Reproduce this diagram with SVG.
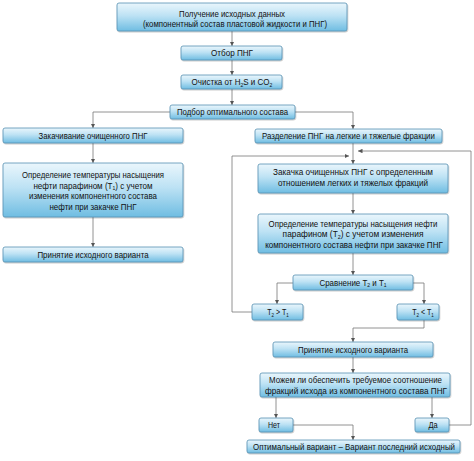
<svg xmlns="http://www.w3.org/2000/svg" width="474" height="461" viewBox="0 0 474 461">
<defs>
<linearGradient id="g" x1="0" y1="0" x2="0" y2="1">
<stop offset="0" stop-color="#eaf6fc"/>
<stop offset="0.45" stop-color="#bde2f4"/>
<stop offset="1" stop-color="#6fbde2"/>
</linearGradient>
<filter id="sh" x="-5%" y="-20%" width="110%" height="150%">
<feDropShadow dx="0.6" dy="1" stdDeviation="0.6" flood-color="#000" flood-opacity="0.25"/>
</filter>
<marker id="a" viewBox="0 0 6 6" refX="6" refY="3" markerWidth="4.5" markerHeight="4.5" orient="auto" markerUnits="userSpaceOnUse">
<path d="M0,0 L6,3 L0,6 z" fill="#555"/>
</marker>
</defs>
<style>
.box{fill:url(#g);stroke:#5690b3;stroke-width:0.8;filter:url(#sh)}
.t{font-family:"Liberation Sans Narrow","Liberation Sans",Arial,sans-serif;font-size:9.5px;fill:#111;text-anchor:middle}
.s{font-size:6px}
.c{fill:none;stroke:#777;stroke-width:0.8}
.ar{marker-end:url(#a)}
</style>
<rect width="474" height="461" fill="#fff"/>

<g id="connectors">
<path class="c ar" d="M232,31 V46"/>
<path class="c ar" d="M232,60 V75"/>
<path class="c ar" d="M232,89 V105"/>
<path class="c ar" d="M170,112 H93 V128"/>
<path class="c ar" d="M295,112 H353 V129"/>
<path class="c ar" d="M93,143 V163"/>
<path class="c ar" d="M93,217 V247"/>
<path class="c ar" d="M353,143 V164"/>
<path class="c ar" d="M353,193 V214"/>
<path class="c ar" d="M353,253 V275"/>
<path class="c ar" d="M293,283 H277 V304"/>
<path class="c ar" d="M413,283 H424 V304"/>
<path class="c ar" d="M252,312 H232 V156 H349"/>
<path class="c ar" d="M424,320 V328 H353 V342"/>
<path class="c ar" d="M353,357 V373"/>
<path class="c ar" d="M276,397 V418"/>
<path class="c ar" d="M432,397 V418"/>
<path class="c ar" d="M293,425 H353 V440"/>
<path class="c ar" d="M449,425 H471 V151 H358"/>
</g>

<g id="n1"><rect class="box" x="117" y="3" width="230" height="28" rx="2"/>
<text class="t" transform="matrix(0.8,0,0,1,232,0)" x="0" y="17.5" textLength="132.5" lengthAdjust="spacingAndGlyphs">Получение исходных данных</text>
<text class="t" transform="matrix(0.8,0,0,1,235,0)" x="0" y="27.5" textLength="230" lengthAdjust="spacingAndGlyphs">(компонентный состав пластовой жидкости и ПНГ)</text></g>

<g id="n2"><rect class="box" x="181" y="46" width="101" height="14" rx="2"/>
<text class="t" transform="matrix(0.8,0,0,1,232,0)" x="0" y="56.3" textLength="52.5" lengthAdjust="spacingAndGlyphs">Отбор ПНГ</text></g>

<g id="n3"><rect class="box" x="181" y="75" width="101" height="14" rx="2"/>
<text class="t" transform="matrix(0.8,0,0,1,232,0)" x="0" y="85.3" textLength="101" lengthAdjust="spacingAndGlyphs">Очистка от H<tspan class="s" dy="1.5">2</tspan><tspan dy="-1.5">S и CO</tspan><tspan class="s" dy="1.5">2</tspan></text></g>

<g id="n4"><rect class="box" x="170" y="105" width="125" height="14" rx="2"/>
<text class="t" transform="matrix(0.8,0,0,1,232.5,0)" x="0" y="115.3" textLength="139" lengthAdjust="spacingAndGlyphs">Подбор оптимального состава</text></g>

<g id="n5"><rect class="box" x="3" y="128" width="180" height="15" rx="2"/>
<text class="t" transform="matrix(0.8,0,0,1,93,0)" x="0" y="138.8" textLength="136" lengthAdjust="spacingAndGlyphs">Закачивание очищенного ПНГ</text></g>

<g id="n6"><rect class="box" x="3" y="163" width="180" height="54" rx="2"/>
<text class="t" transform="matrix(0.8,0,0,1,93,0)" x="0" y="178.5" textLength="177.5" lengthAdjust="spacingAndGlyphs">Определение температуры насыщения</text>
<text class="t" transform="matrix(0.8,0,0,1,93,0)" x="0" y="189" textLength="149" lengthAdjust="spacingAndGlyphs">нефти парафином (T<tspan class="s" dy="1.5">1</tspan><tspan dy="-1.5">) с учетом</tspan></text>
<text class="t" transform="matrix(0.8,0,0,1,93,0)" x="0" y="199.5" textLength="160" lengthAdjust="spacingAndGlyphs">изменения компонентного состава</text>
<text class="t" transform="matrix(0.8,0,0,1,93,0)" x="0" y="210" textLength="109" lengthAdjust="spacingAndGlyphs">нефти при закачке ПНГ</text></g>

<g id="n7"><rect class="box" x="3" y="247" width="180" height="15" rx="2"/>
<text class="t" transform="matrix(0.8,0,0,1,93,0)" x="0" y="257.8" textLength="139" lengthAdjust="spacingAndGlyphs">Принятие исходного варианта</text></g>

<g id="n8"><rect class="box" x="255" y="129" width="187" height="14" rx="2"/>
<text class="t" transform="matrix(0.8,0,0,1,348.5,0)" x="0" y="139.3" textLength="216" lengthAdjust="spacingAndGlyphs">Разделение ПНГ на легкие и тяжелые фракции</text></g>

<g id="n9"><rect class="box" x="258" y="164" width="190" height="29" rx="2"/>
<text class="t" transform="matrix(0.8,0,0,1,353,0)" x="0" y="175.5" textLength="200" lengthAdjust="spacingAndGlyphs">Закачка очищенных ПНГ с определенным</text>
<text class="t" transform="matrix(0.8,0,0,1,353,0)" x="0" y="186.5" textLength="187.5" lengthAdjust="spacingAndGlyphs">отношением легких и тяжелых фракций</text></g>

<g id="n10"><rect class="box" x="258" y="214" width="190" height="39" rx="2"/>
<text class="t" transform="matrix(0.8,0,0,1,353,0)" x="0" y="227.3" textLength="211" lengthAdjust="spacingAndGlyphs">Определение температуры насыщения нефти</text>
<text class="t" transform="matrix(0.8,0,0,1,353,0)" x="0" y="237.5" textLength="176" lengthAdjust="spacingAndGlyphs">парафином (T<tspan class="s" dy="1.5">2</tspan><tspan dy="-1.5">) с учетом изменения</tspan></text>
<text class="t" transform="matrix(0.8,0,0,1,354,0)" x="0" y="247.7" textLength="222" lengthAdjust="spacingAndGlyphs">компонентного состава нефти при закачке ПНГ</text></g>

<g id="n11"><rect class="box" x="293" y="275" width="120" height="15" rx="2"/>
<text class="t" transform="matrix(0.8,0,0,1,353,0)" x="0" y="285.8" textLength="84" lengthAdjust="spacingAndGlyphs">Сравнение T<tspan class="s" dy="1.5">2</tspan><tspan dy="-1.5"> и T</tspan><tspan class="s" dy="1.5">1</tspan></text></g>

<g id="n12"><rect class="box" x="252" y="304" width="51" height="16" rx="2"/>
<text class="t" transform="matrix(0.8,0,0,1,278,0)" x="0" y="315.3" textLength="27" lengthAdjust="spacingAndGlyphs">T<tspan class="s" dy="1.5">2</tspan><tspan dy="-1.5"> &gt; T</tspan><tspan class="s" dy="1.5">1</tspan></text></g>

<g id="n13"><rect class="box" x="397" y="304" width="42" height="16" rx="2"/>
<text class="t" transform="matrix(0.8,0,0,1,423,0)" x="0" y="315.3" textLength="27" lengthAdjust="spacingAndGlyphs">T<tspan class="s" dy="1.5">2</tspan><tspan dy="-1.5"> &lt; T</tspan><tspan class="s" dy="1.5">1</tspan></text></g>

<g id="n14"><rect class="box" x="273" y="342" width="160" height="15" rx="2"/>
<text class="t" transform="matrix(0.8,0,0,1,353,0)" x="0" y="352.8" textLength="137.5" lengthAdjust="spacingAndGlyphs">Принятие исходного варианта</text></g>

<g id="n15"><rect class="box" x="260" y="373" width="190" height="24" rx="2"/>
<text class="t" transform="matrix(0.8,0,0,1,355.5,0)" x="0" y="383.3" textLength="216" lengthAdjust="spacingAndGlyphs">Можем ли обеспечить требуемое соотношение</text>
<text class="t" transform="matrix(0.8,0,0,1,356,0)" x="0" y="394" textLength="227.5" lengthAdjust="spacingAndGlyphs">фракций исхода из компонентного состава ПНГ</text></g>

<g id="n16"><rect class="box" x="259" y="418" width="34" height="14" rx="2"/>
<text class="t" transform="matrix(0.8,0,0,1,274,0)" x="0" y="428.3" textLength="15" lengthAdjust="spacingAndGlyphs">Нет</text></g>

<g id="n17"><rect class="box" x="415" y="418" width="34" height="14" rx="2"/>
<text class="t" transform="matrix(0.8,0,0,1,433,0)" x="0" y="428.3" textLength="11.5" lengthAdjust="spacingAndGlyphs">Да</text></g>

<g id="n18"><rect class="box" x="247" y="440" width="213" height="13" rx="2"/>
<text class="t" transform="matrix(0.8,0,0,1,354,0)" x="0" y="449.8" textLength="252.5" lengthAdjust="spacingAndGlyphs">Оптимальный вариант – Вариант последний исходный</text></g>
</svg>
